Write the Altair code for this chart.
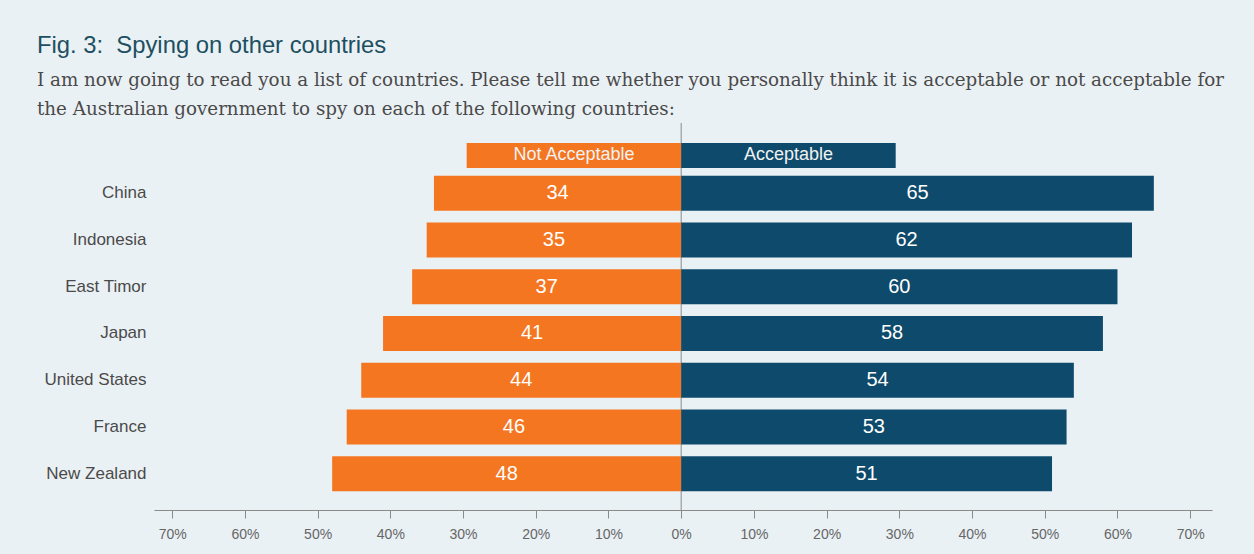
import altair as alt
import pandas as pd

countries = ["China", "Indonesia", "East Timor", "Japan", "United States", "France", "New Zealand"]
not_acceptable = [34, 35, 37, 41, 44, 46, 48]
acceptable = [65, 62, 60, 58, 54, 53, 51]
legend_labels = ["Not Acceptable", "Acceptable"]
legend_extent = 29.5
tick_values = [-70, -60, -50, -40, -30, -20, -10, 0, 10, 20, 30, 40, 50, 60, 70]

title_text = "Fig. 3:\u00a0 Spying on other countries"
subtitle_lines = [
    "I am now going to read you a list of countries. Please tell me whether you personally think it is acceptable or not acceptable for",
    "the Australian government to spy on each of the following countries:",
]

HEADER = " "
rows = [HEADER] + countries

recs = []
for c, n, a in zip(countries, not_acceptable, acceptable):
    recs.append({"row": c, "side": legend_labels[0], "value": -n, "mid": -n / 2, "label": str(n)})
    recs.append({"row": c, "side": legend_labels[1], "value": a, "mid": a / 2, "label": str(a)})
df = pd.DataFrame(recs)

hdr = pd.DataFrame([
    {"row": HEADER, "side": legend_labels[0], "value": -legend_extent, "mid": -legend_extent / 2, "label": legend_labels[0]},
    {"row": HEADER, "side": legend_labels[1], "value": legend_extent, "mid": legend_extent / 2, "label": legend_labels[1]},
])
zero_df = pd.DataFrame({"value": [0]})

ORANGE = "#f47621"
NAVY = "#0d4a6b"

color = alt.Color("side:N", scale=alt.Scale(domain=legend_labels, range=[ORANGE, NAVY]), legend=None)

y_enc = alt.Y(
    "row:N",
    sort=rows,
    scale=alt.Scale(domain=rows, paddingInner=0, paddingOuter=0.139, align=0),
    axis=alt.Axis(title=None, ticks=False, domain=False, labelFontSize=17,
                  labelColor="#4a4a4a", labelPadding=8, labelFont="Liberation Sans"),
)
x_scale = alt.Scale(domain=[-72.5, 73], nice=False, zero=False)
x_axis = alt.Axis(
    title=None, values=tick_values, labelExpr="abs(datum.value) + '%'", grid=False,
    domainColor="#8a8a8a", tickColor="#8a8a8a", tickSize=8, labelFontSize=14,
    labelColor="#666666", labelPadding=9, labelFont="Liberation Sans",
)

rule = alt.Chart(zero_df).mark_rule(color="#8a8a8a", strokeWidth=1).encode(
    x=alt.X("value:Q", scale=x_scale, axis=x_axis)
)

bars = alt.Chart(df).mark_bar(height=35).encode(
    x=alt.X("value:Q", scale=x_scale, axis=x_axis, stack=None),
    x2=alt.datum(0),
    y=y_enc,
    color=color,
)
labels = alt.Chart(df).mark_text(color="white", fontSize=20, font="Liberation Sans").encode(
    x=alt.X("mid:Q", scale=x_scale, axis=x_axis),
    y=y_enc,
    text="label:N",
)
hdr_bars = alt.Chart(hdr).mark_bar(height=25, yOffset=9).encode(
    x=alt.X("value:Q", scale=x_scale, axis=x_axis, stack=None),
    x2=alt.datum(0),
    y=y_enc,
    color=color,
)
hdr_labels = alt.Chart(hdr).mark_text(color="#f2f2f2", fontSize=18, font="Liberation Sans", yOffset=9).encode(
    x=alt.X("mid:Q", scale=x_scale, axis=x_axis),
    y=y_enc,
    text="label:N",
)

chart = alt.layer(rule, bars, labels, hdr_bars, hdr_labels).properties(
    width=1058,
    height=387,
    autosize="none",
    padding={"left": 154, "top": 123, "right": 42, "bottom": 44},
    background="#eaf1f5",
    title=alt.TitleParams(
        text=title_text,
        subtitle=subtitle_lines,
        anchor="start",
        frame="group",
        dx=-117,
        offset=4,
        font="Liberation Sans",
        fontSize=23.8,
        fontWeight="normal",
        color="#1d4f61",
        subtitleFont="DejaVu Serif",
        subtitleFontSize=18.3,
        subtitleColor="#4a4a4a",
        subtitleLineHeight=29,
        subtitlePadding=14,
    ),
).configure_view(stroke=None)

chart.save("out.html", embed_options={"renderer": "svg", "actions": False})
